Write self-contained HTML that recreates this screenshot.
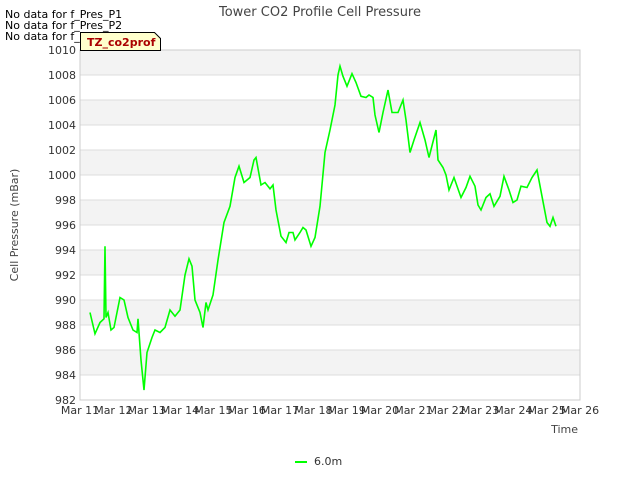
<!DOCTYPE html>
<html><head><meta charset="utf-8"><style>
body{margin:0;background:#fff;font-family:"DejaVu Sans","Liberation Sans",sans-serif;}
svg text{font-family:"DejaVu Sans","Liberation Sans",sans-serif;}
</style></head><body>
<svg id="chart" width="640" height="480" xmlns="http://www.w3.org/2000/svg">
<g id="bands"></g>
<g id="grid"></g>
<rect x="80" y="50" width="500" height="350" fill="none" stroke="#ccc"/>
<g id="xticks"></g><g id="yticks"></g>
<path id="line" fill="none" stroke="#00ff00" stroke-width="1.6"/>
<text x="320" y="16" text-anchor="middle" font-size="13" fill="#444">Tower CO2 Profile Cell Pressure</text>
<text transform="translate(18,225) rotate(-90)" text-anchor="middle" font-size="11" fill="#444">Cell Pressure (mBar)</text>
<text x="578" y="433" text-anchor="end" font-size="11" fill="#444">Time</text>
<text x="5" y="18" font-size="11">No data for f_Pres_P1</text>
<text x="5" y="29" font-size="11">No data for f_Pres_P2</text>
<text x="5" y="40" font-size="11">No data for f_Pres_P4</text>
<g>
<path d="M80.5,32.5 H154.5 L160.5,38.5 V50.5 H80.5 Z" fill="#ffffcc" stroke="#000"/>
<text x="87" y="46" font-size="11" font-weight="bold" fill="#aa0000">TZ_co2prof</text>
</g>
<g>
<line x1="295" y1="462" x2="307" y2="462" stroke="#00ff00" stroke-width="2"/>
<text x="314" y="465" font-size="11" fill="#333">6.0m</text>
</g>
</svg>
<script>
const days=[0.3,0.45,0.6,0.72,0.75,0.78,0.84,0.93,1.02,1.2,1.32,1.44,1.59,1.71,1.74,1.83,1.92,2.01,2.16,2.25,2.4,2.55,2.7,2.85,3.0,3.15,3.27,3.36,3.45,3.6,3.69,3.78,3.84,3.99,4.14,4.32,4.5,4.65,4.77,4.92,5.1,5.22,5.28,5.43,5.55,5.7,5.79,5.88,6.03,6.18,6.27,6.39,6.45,6.6,6.69,6.78,6.93,7.05,7.2,7.35,7.5,7.65,7.74,7.8,7.89,8.01,8.16,8.28,8.43,8.58,8.67,8.79,8.85,8.97,9.09,9.24,9.36,9.54,9.69,9.78,9.9,10.02,10.2,10.35,10.47,10.68,10.74,10.89,10.98,11.07,11.22,11.43,11.58,11.7,11.85,11.94,12.03,12.18,12.3,12.42,12.6,12.72,12.87,12.99,13.11,13.23,13.41,13.56,13.71,13.86,14.01,14.1,14.19,14.28];
const pressure=[989.0,987.3,988.2,988.5,994.3,988.6,989,987.6,987.8,990.2,990,988.6,987.6,987.4,988.5,985.2,982.8,985.8,987,987.6,987.4,987.8,989.2,988.7,989.2,992,993.3,992.7,990,989,987.8,989.8,989.2,990.4,993.2,996.2,997.5,999.8,1000.7,999.4,999.8,1001.2,1001.4,999.2,999.4,998.9,999.2,997.2,995.1,994.6,995.4,995.4,994.8,995.4,995.8,995.6,994.3,995,997.5,1001.8,1003.6,1005.6,1008,1008.7,1007.9,1007.1,1008.1,1007.4,1006.3,1006.2,1006.4,1006.2,1004.8,1003.4,1005,1006.8,1005,1005,1006,1004.4,1001.8,1002.8,1004.2,1002.8,1001.4,1003.6,1001.2,1000.6,1000,998.8,999.8,998.2,999,999.9,999.1,997.6,997.2,998.2,998.5,997.5,998.3,999.9,998.8,997.8,998,999.1,999,999.8,1000.4,998.3,996.2,995.9,996.6,995.9];
const xTickLabels=["Mar 11","Mar 12","Mar 13","Mar 14","Mar 15","Mar 16","Mar 17","Mar 18","Mar 19","Mar 20","Mar 21","Mar 22","Mar 23","Mar 24","Mar 25","Mar 26"];
const yTickValues=[982,984,986,988,990,992,994,996,998,1000,1002,1004,1006,1008,1010];
const NS="http://www.w3.org/2000/svg";
const x=d=>80+d*500/15, y=v=>400-(v-982)*350/28;
const bands=document.getElementById('bands'),grid=document.getElementById('grid'),yt=document.getElementById('yticks'),xt=document.getElementById('xticks');
for(let i=0;i<yTickValues.length-1;i++){
 if(i%2===1){const r=document.createElementNS(NS,'rect');
 
 
 r.setAttribute('x',80);r.setAttribute('width',500);r.setAttribute('y',y(yTickValues[i+1]));r.setAttribute('height',y(yTickValues[i])-y(yTickValues[i+1]));r.setAttribute('fill','#f3f3f3');bands.appendChild(r);}
}
yTickValues.forEach(v=>{
 const l=document.createElementNS(NS,'line');
 
 
 l.setAttribute('x1',80);l.setAttribute('x2',580);l.setAttribute('y1',y(v));l.setAttribute('y2',y(v));l.setAttribute('stroke','#ddd');grid.appendChild(l);
 const t=document.createElementNS(NS,'text');
 
 
 t.setAttribute('x',76);t.setAttribute('y',y(v)+4);t.setAttribute('text-anchor','end');t.setAttribute('font-size','11');t.setAttribute('fill','#333');t.textContent=v;yt.appendChild(t);
});
xTickLabels.forEach((s,i)=>{
 const t=document.createElementNS(NS,'text');
 
 
 t.setAttribute('x',x(i));t.setAttribute('y',414);t.setAttribute('text-anchor','middle');t.setAttribute('font-size','11');t.setAttribute('fill','#333');t.textContent=s;xt.appendChild(t);
});
document.getElementById('line').setAttribute('d',days.map((d,i)=>(i?'L':'M')+x(d).toFixed(1)+','+y(pressure[i]).toFixed(1)).join(''));
</script>
</body></html>
